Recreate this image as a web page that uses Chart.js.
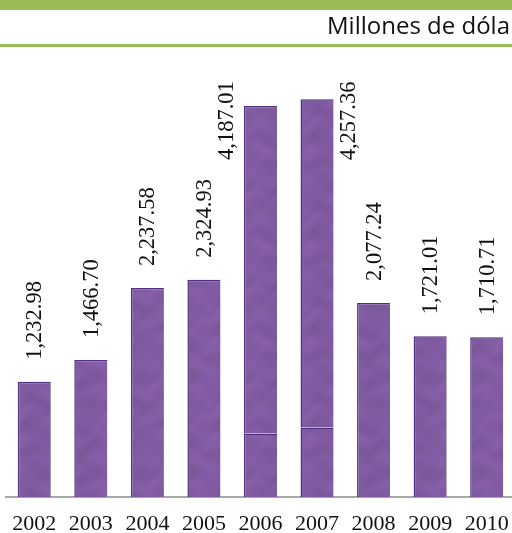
<!DOCTYPE html>
<html>
<head>
<meta charset="utf-8">
<script src="https://cdn.jsdelivr.net/npm/chart.js@4.4.1/dist/chart.umd.min.js"></script>
<style>
  html, body { margin: 0; padding: 0; background: #fff; overflow: hidden; width: 512px; height: 533px; }
  #wrap { position: absolute; left: 0; top: 0; width: 520px; height: 533px; }
  #band { position: absolute; left: 0; top: 0; width: 520px; height: 10px; background: #9bbb59; }
  #rule { position: absolute; left: 0; top: 44px; width: 520px; height: 3px; background: #9bbb59; }
  #unit { position: absolute; left: 327px; top: 8px; white-space: nowrap;
          font-family: "Open Sans", sans-serif; font-size: 24px; color: #111; line-height: 34px; }
  canvas { position: absolute; left: 0; top: 0; }
</style>
</head>
<body>
<div id="wrap">
  <canvas id="chart" width="520" height="533"></canvas>
  <div id="band"></div>
  <div id="unit">Millones de dólares</div>
  <div id="rule"></div>
</div>
<script>
// Years on the category axis
const years = ['2002', '2003', '2004', '2005', '2006', '2007', '2008', '2009', '2010'];
// Yearly totals, in millions of dollars
const totals = [1232.98, 1466.70, 2237.58, 2324.93, 4187.01, 4257.36, 2077.24, 1721.01, 1710.71];
// Lower block of the years whose bar is split in two (null = single block)
const lowerBlock = [null, null, null, null, 680, 743, null, null, null];

const lowerData = totals.map((t, i) => lowerBlock[i] === null ? t : lowerBlock[i]);
const upperData = totals.map((t, i) => lowerBlock[i] === null ? null : +(t - lowerBlock[i]).toFixed(2));

// Mottled purple fill for the bars
function purpleTexture() {
  const c = document.createElement('canvas');
  c.width = 96; c.height = 96;
  const g = c.getContext('2d');
  const img = g.createImageData(96, 96);
  for (let y = 0; y < 96; y++) {
    for (let x = 0; x < 96; x++) {
      const a = 2 * Math.PI * x / 96, b = 2 * Math.PI * y / 96;
      const v = Math.sin(a * 2 + Math.sin(b * 3) * 1.4) * 0.5
              + Math.sin(b * 4 + Math.cos(a * 3) * 1.2) * 0.35
              + Math.sin(a * 7 + b * 5) * 0.15;
      const k = v * 9;
      const p = (y * 96 + x) * 4;
      img.data[p] = 128 + k * 0.8;
      img.data[p + 1] = 91 + k * 0.5;
      img.data[p + 2] = 161 + k;
      img.data[p + 3] = 255;
    }
  }
  g.putImageData(img, 0, 0);
  return g.createPattern(c, 'repeat');
}
const fill = purpleTexture();
const edge = '#50307e';
const barBorder = { top: 1.5, left: 1.5, right: 0, bottom: 0 };

// Rotated value labels written above (or beside) each bar
const valueLabels = {
  id: 'valueLabels',
  afterDatasetsDraw(chart, args, opts) {
    const ctx = chart.ctx;
    const lower = chart.getDatasetMeta(0).data;
    const upper = chart.getDatasetMeta(1).data;
    ctx.save();
    ctx.font = opts.font;
    ctx.fillStyle = opts.color;
    ctx.textBaseline = 'middle';
    ctx.textAlign = 'left';
    totals.forEach((t, i) => {
      const el = upperData[i] !== null ? upper[i] : lower[i];
      const text = t.toLocaleString('en-US', { minimumFractionDigits: 2, maximumFractionDigits: 2 });
      const side = opts.beside[years[i]];
      let x = el.x, y = el.y - opts.gap;
      if (side) { x = el.x + side.dx; y = el.y + side.dy; }
      ctx.save();
      ctx.translate(x + opts.shiftX, y);
      ctx.rotate(-Math.PI / 2);
      ctx.fillText(text, 0, 0);
      ctx.restore();
    });
    ctx.restore();
  }
};

new Chart(document.getElementById('chart'), {
  type: 'bar',
  data: {
    labels: years,
    datasets: [
      { data: lowerData, backgroundColor: fill, borderColor: edge, borderWidth: barBorder, borderSkipped: false },
      { data: upperData, backgroundColor: fill, borderColor: edge, borderWidth: barBorder, borderSkipped: false }
    ]
  },
  options: {
    responsive: false,
    animation: false,
    events: [],
    categoryPercentage: 1,
    barPercentage: 0.585,
    layout: { padding: { left: 6, right: 5, top: 30, bottom: 0 } },
    plugins: {
      legend: { display: false },
      tooltip: { enabled: false },
      title: { display: false },
      valueLabels: {
        font: '22.5px "Liberation Serif", serif',
        color: '#111',
        gap: 22,
        shiftX: 1,
        beside: { '2006': { dx: -34, dy: 54 }, '2007': { dx: 31, dy: 61 } }
      }
    },
    scales: {
      x: {
        stacked: true,
        grid: { display: false, drawTicks: false },
        border: { display: true, color: '#a8a8a8', width: 2 },
        ticks: { color: '#111', padding: 3, maxRotation: 0, autoSkip: false,
                 font: { family: '"Liberation Serif", serif', size: 22, lineHeight: 2.2 } },
        afterFit: (scale) => { scale.height = 36; }
      },
      y: { stacked: true, display: false, min: 0, max: 5000 }
    }
  },
  plugins: [valueLabels]
});
</script>
</body>
</html>
